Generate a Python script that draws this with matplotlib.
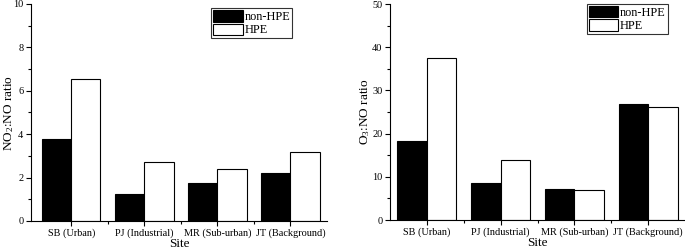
import matplotlib
matplotlib.use("Agg")
import matplotlib.pyplot as plt
import numpy as np
from matplotlib.ticker import MultipleLocator, FixedLocator

plt.rcParams['font.family'] = ['Liberation Serif', 'DejaVu Serif']
plt.rcParams['mathtext.fontset'] = 'custom'
plt.rcParams['mathtext.rm'] = 'Liberation Serif'
plt.rcParams['mathtext.it'] = 'Liberation Serif:italic'

sites = ["SB (Urban)", "PJ (Industrial)", "MR (Sub-urban)", "JT (Background)"]
no2_non_hpe = [3.79, 1.23, 1.74, 2.20]
no2_hpe = [6.54, 2.72, 2.41, 3.17]
o3_non_hpe = [18.35, 8.5, 7.1, 26.8]
o3_hpe = [37.4, 13.96, 7.0, 26.2]

fig = plt.figure(figsize=(6.85, 2.5), dpi=100)
ax1 = fig.add_axes([31/685, 29/250, 296/685, 217/250])
ax2 = fig.add_axes([390/685, 30/250, 295/685, 216/250])

x = np.arange(len(sites))
w = 0.4

def style(ax, nonv, hpev, ymax, ystep, ylabel, xlim, leg_anchor, ylab_x):
    ax.bar(x - w/2, nonv, w, color='black', edgecolor='black', linewidth=0.8, label='non-HPE')
    ax.bar(x + w/2, hpev, w, color='white', edgecolor='black', linewidth=0.8, label='HPE')
    ax.set_xlim(*xlim)
    ax.set_ylim(0, ymax)
    ax.spines['top'].set_visible(False)
    ax.spines['right'].set_visible(False)
    ax.yaxis.set_major_locator(MultipleLocator(ystep))
    ax.yaxis.set_minor_locator(MultipleLocator(ystep/2))
    ax.set_xticks(x)
    ax.set_xticklabels(sites)
    ax.xaxis.set_minor_locator(FixedLocator([0.5, 1.5, 2.5]))
    ax.tick_params(axis='both', which='major', length=3.5, width=0.8, labelsize=7.4, pad=2)
    ax.tick_params(axis='both', which='minor', length=2, width=0.8)
    ax.set_xlabel('Site', fontsize=9.5, labelpad=0)
    ax.set_ylabel(ylabel, fontsize=9.5)
    ax.yaxis.set_label_coords(ylab_x, 0.5)
    leg = ax.legend(loc='upper right', bbox_to_anchor=leg_anchor, fontsize=8.8,
                    frameon=True, fancybox=False, edgecolor='black',
                    handlelength=2.4, handleheight=1.05, labelspacing=0.05,
                    handletextpad=0.15, borderpad=0.15, borderaxespad=0)
    leg.get_frame().set_linewidth(0.8)

style(ax1, no2_non_hpe, no2_hpe, 10, 2, r'NO$_2$:NO ratio', (-0.55, 3.5), (0.882, 0.98), -0.052)
style(ax2, o3_non_hpe, o3_hpe, 50, 10, r'O$_3$:NO ratio', (-0.5, 3.5), (0.941, 1.0), -0.06)

fig.savefig('out.png', dpi=100)
